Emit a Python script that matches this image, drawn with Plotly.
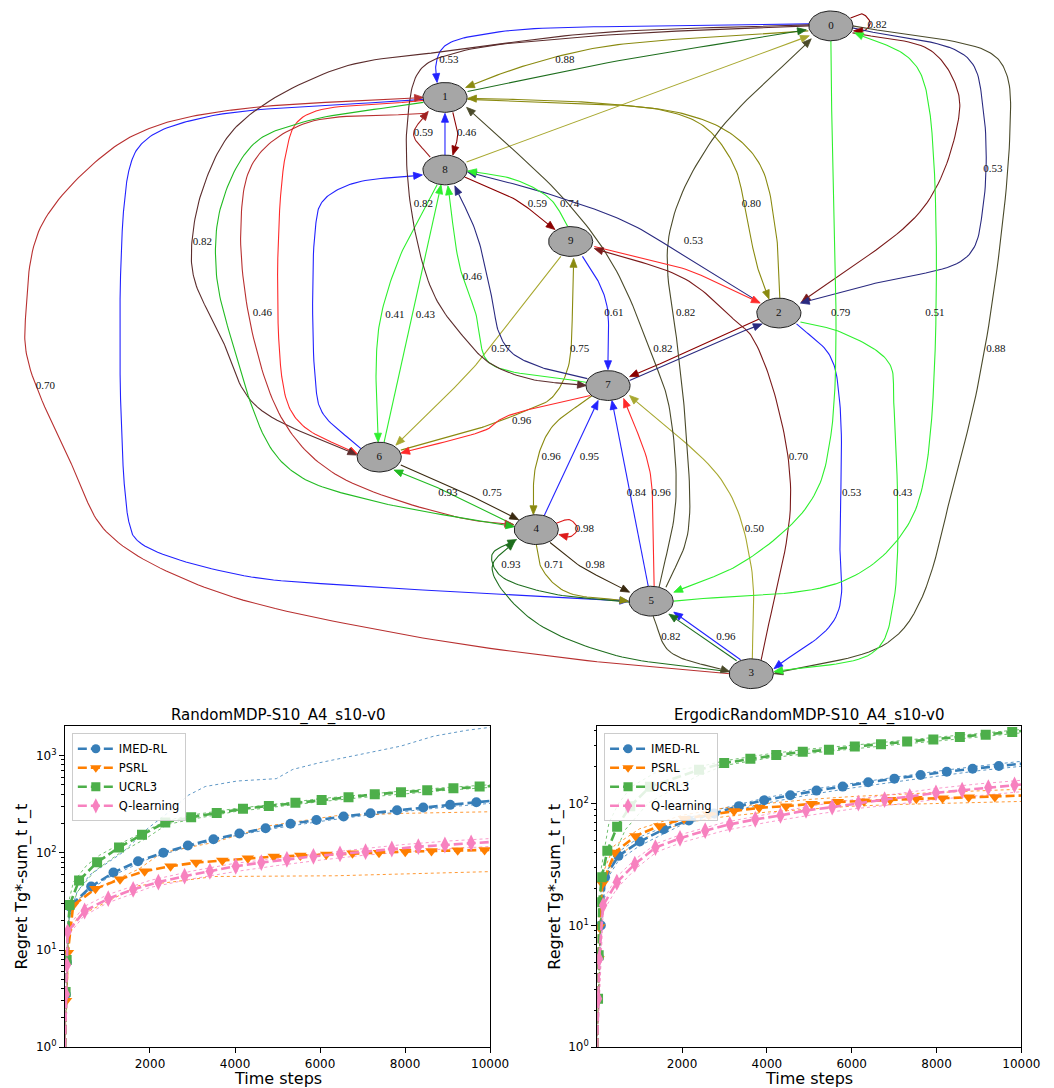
import numpy as np
import plotly.graph_objects as go

# ------------------------------------------------------------------
# Regret data, left panel (RandomMDP-S10_A4_s10-v0)
# ------------------------------------------------------------------
L_IMED_X = [1, 20, 45, 110, 617, 1141, 1719, 2313, 2891, 3493, 4102, 4719, 5305, 5914, 6554, 7186, 7810, 8427, 9059, 9676, 10000]
L_IMED_Y = [1.0, 3.5, 7.5, 28, 45, 62.6, 81.8, 100, 119, 138, 158, 179, 199, 217, 236, 255, 274, 292, 311, 331, 341]
L_IMED_LO_X = [1, 100, 300, 600, 1000, 2000, 3000, 4000, 5000, 6000, 7000, 8000, 9000, 10000]
L_IMED_LO_Y = [0.9, 22, 33, 42, 55, 88, 118, 150, 180, 210, 240, 268, 296, 322]
L_IMED_HI_X = [1, 50, 100, 280, 580, 1360, 1960, 2430, 2900, 3300, 4050, 4970, 5360, 5980, 7130, 7900, 8670, 9450, 10000]
L_IMED_HI_Y = [1.1, 10, 22, 39, 59, 101, 180, 259, 390, 480, 547, 578, 720, 842, 1066, 1250, 1580, 1817, 1950]

L_PSRL_X = [1, 25, 69, 193, 717, 1295, 1874, 2483, 3084, 3701, 4302, 4911, 5536, 6145, 6762, 7386, 8003, 8620, 9237, 9869, 10000]
L_PSRL_Y = [1.0, 3.0, 9.4, 28.8, 42.6, 53.5, 64.6, 72.7, 79.3, 83.2, 87.8, 91.3, 93.5, 95.8, 98.8, 100.3, 102.7, 104.3, 106, 106.9, 107]
L_PSRL_LO_X = [1, 100, 300, 970, 1735, 2506, 3510, 6361, 10000]
L_PSRL_LO_Y = [0.9, 14, 22, 31, 46, 50, 57, 58, 64]
L_PSRL_HI_X = [1, 100, 250, 739, 1740, 2274, 3510, 4819, 6361, 7903, 10000]
L_PSRL_HI_Y = [1.1, 25, 32, 43, 68, 100, 128, 190, 240, 254, 264]

L_UCRL_X = [1, 15, 40, 108, 332, 756, 1272, 1812, 2359, 2968, 3570, 4187, 4796, 5420, 6037, 6669, 7286, 7903, 8520, 9136, 9753, 10000]
L_UCRL_Y = [1.0, 3.7, 7.9, 29, 51.9, 79.8, 113.6, 153, 205, 232, 257, 283, 303, 326, 349, 372, 399, 419, 439, 460, 479, 485]
L_UCRL_LO_X = [1, 100, 300, 700, 1300, 1900, 2400, 3000, 4000, 5000, 6000, 7000, 8000, 9000, 10000]
L_UCRL_LO_Y = [0.9, 24, 40, 65, 100, 140, 195, 222, 265, 300, 335, 370, 405, 440, 470]
L_UCRL_HI_X = [1, 100, 200, 508, 808, 1363, 1963, 2400, 3000, 4000, 5000, 6000, 7000, 8000, 9000, 10000]
L_UCRL_HI_Y = [1.1, 33, 50, 74, 94, 128, 173, 215, 245, 285, 318, 360, 395, 435, 470, 500]

L_Q_X = [1, 20, 45, 62, 463, 1018, 1604, 2197, 2814, 3408, 4017, 4618, 5220, 5844, 6469, 7070, 7687, 8311, 8936, 9553, 10000]
L_Q_Y = [1.0, 3.5, 7.0, 15.4, 25.2, 33.7, 42, 49.9, 57.5, 64.6, 72.7, 79.3, 85.7, 92, 97.2, 102.7, 109.4, 115.5, 120.2, 126, 129]
L_Q_LO_X = [1, 60, 450, 1000, 2000, 3000, 4000, 5000, 6000, 7000, 8000, 9000, 10000]
L_Q_LO_Y = [0.9, 14, 22.5, 30.5, 44, 54, 64, 74, 84, 94, 102, 110, 116]
L_Q_HI_X = [1, 60, 450, 1000, 2000, 3000, 4000, 5000, 6000, 7000, 8000, 9000, 10000]
L_Q_HI_Y = [1.1, 17, 28, 37, 52, 65, 78, 88, 98, 110, 122, 132, 140]

# ------------------------------------------------------------------
# Regret data, right panel (ErgodicRandomMDP-S10_A4_s10-v0)
# ------------------------------------------------------------------
R_IMED_X = [1, 20, 39, 86, 185, 502, 1003, 1566, 2160, 2755, 3341, 3935, 4552, 5170, 5787, 6389, 7006, 7623, 8241, 8850, 9468, 10000]
R_IMED_Y = [1.0, 2.5, 5.5, 10, 24.8, 37.2, 48.7, 61.4, 72.7, 82.9, 95.1, 106.4, 116.9, 127.6, 137.6, 149.3, 159.9, 171.3, 182.4, 192.8, 202.9, 212]
R_IMED_LO_X = [1, 100, 200, 500, 1000, 2000, 3000, 4000, 5000, 6000, 7000, 8000, 9000, 10000]
R_IMED_LO_Y = [0.9, 12, 23, 34, 45, 67, 84, 101, 118, 134, 150, 168, 186, 202]
R_IMED_HI_X = [1, 100, 200, 500, 1000, 2000, 3000, 4000, 5000, 6000, 7000, 8000, 9000, 10000]
R_IMED_HI_Y = [1.1, 14, 27, 40, 53, 74, 92, 112, 130, 146, 166, 184, 203, 222]

R_PSRL_X = [1, 30, 45, 123, 417, 903, 1466, 2045, 2623, 3225, 3819, 4452, 5054, 5671, 6289, 6906, 7523, 8140, 8758, 9375, 10000]
R_PSRL_Y = [1.0, 5.3, 9.7, 22, 39.6, 54.2, 65.4, 75, 80.9, 86.6, 92.2, 95.1, 99.4, 103.2, 104.5, 107.2, 109.2, 110.5, 112.6, 113.3, 116.2]
R_PSRL_LO_X = [1, 100, 400, 1000, 2000, 3000, 4000, 5000, 6000, 7000, 8000, 9000, 10000]
R_PSRL_LO_Y = [0.9, 17, 35, 50, 69, 78, 85, 90, 95, 98, 100, 102, 104]
R_PSRL_HI_X = [1, 100, 400, 1000, 2000, 3000, 4000, 5000, 6000, 7000, 8000, 9000, 10000]
R_PSRL_HI_Y = [1.1, 25, 45, 62, 80, 92, 100, 108, 114, 119, 123, 127, 131]

R_UCRL_X = [1, 20, 35, 46, 109, 239, 470, 780, 1243, 2400, 2994, 3611, 4221, 4846, 5463, 6073, 6690, 7307, 7924, 8549, 9159, 9784, 10000]
R_UCRL_Y = [1.0, 2.5, 5.7, 15.5, 24.8, 40.9, 64.5, 95, 137, 189, 214.6, 232.9, 249.5, 265.6, 275.6, 293.4, 306.5, 322.1, 334.3, 351.4, 367.3, 386.2, 393.8]
R_UCRL_LO_X = [1, 100, 393, 664, 1204, 2361, 3000, 4000, 5000, 6000, 7000, 8000, 9000, 10000]
R_UCRL_LO_Y = [0.9, 20, 37.4, 61, 101, 168, 205, 235, 258, 280, 303, 325, 350, 380]
R_UCRL_HI_X = [1, 100, 278, 509, 817, 1358, 2400, 3000, 4000, 5000, 6000, 7000, 8000, 9000, 10000]
R_UCRL_HI_Y = [1.1, 30, 69.5, 101, 138, 178, 200, 224, 254, 280, 300, 325, 350, 375, 405]

R_Q_X = [1, 20, 45, 139, 463, 887, 1373, 1952, 2546, 3125, 3727, 4321, 4923, 5540, 6157, 6775, 7369, 7986, 8603, 9221, 9838, 10000]
R_Q_Y = [1.0, 2.5, 5.3, 14.6, 22.6, 31.8, 43.5, 51.8, 59.9, 67.4, 74.1, 79.8, 87.7, 93.4, 100.7, 107.8, 114.1, 122.3, 128.5, 135, 142, 143]
R_Q_LO_X = [1, 140, 460, 900, 1400, 2000, 3000, 4000, 5000, 6000, 7000, 8000, 9000, 10000]
R_Q_LO_Y = [0.9, 13, 20, 29, 40, 48, 60, 70, 80, 90, 98, 108, 116, 125]
R_Q_HI_X = [1, 140, 460, 900, 1400, 2000, 3000, 4000, 5000, 6000, 7000, 8000, 9000, 10000]
R_Q_HI_Y = [1.1, 16, 25, 35, 47, 56, 70, 82, 95, 107, 120, 133, 145, 155]

ALGOS = ["IMED-RL", "PSRL", "UCRL3", "Q-learning"]
X_TICKS = [2000, 4000, 6000, 8000, 10000]
X_TICKTEXT = ["2000", "4000", "6000", "8000", "10000"]
Y_TICKS = [1, 10, 100, 1000]
Y_TICKTEXT = ["10<sup>0</sup>", "10<sup>1</sup>", "10<sup>2</sup>", "10<sup>3</sup>"]
TITLES = ["RandomMDP-S10_A4_s10-v0", "ErgodicRandomMDP-S10_A4_s10-v0"]
X_LABEL = "Time steps"
Y_LABEL = "Regret Tg*-sum_t r_t"

# ------------------------------------------------------------------
# MDP graph: node layout (pixel coordinates of the drawing) and edges
# ------------------------------------------------------------------
NODE_IDS = ["0", "1", "2", "3", "4", "5", "6", "7", "8", "9"]
NODE_POS = {"0": (838, 18), "1": (445, 90), "2": (785, 307), "3": (757, 670),
            "4": (538, 525), "5": (655, 597), "6": (378, 452), "7": (611, 380),
            "8": (445, 163), "9": (573, 235)}

C = {"maroon": "#7a1a1a", "darkred": "#8b0000", "brown": "#5c2d2d", "firebrick": "#b83030",
     "red": "#ff2a2a", "blue": "#2222ff", "navy": "#2a2a80", "olive": "#8a8a10",
     "lolive": "#a8a830", "dolive": "#4a4a2a", "lime": "#2ef02e", "green": "#22bb22",
     "dgreen": "#1e6e1e", "vdark": "#3a2a10", "self4": "#dd1a1a", "fb2": "#a02020"}

# (colour, route waypoints, label, label position)
EDGES = [
    ("darkred", [(858, 10), (870, 6), (878, 15), (872, 23), (861, 23)], "0.82", (885, 17)),
    ("blue", [(816, 16), (650, 18), (500, 24), (445, 38), (436, 55), (437, 75)], "0.53", (449, 53)),
    ("olive", [(815, 23), (700, 30), (600, 40), (520, 60), (466, 80)], "0.88", (567, 53)),
    ("dgreen", [(468, 84), (600, 57), (813, 22)], None, None),
    ("olive", [(468, 92), (550, 95), (667, 103), (710, 120), (740, 160), (752, 210), (763, 260), (775, 293)], "0.80", (757, 198)),
    ("olive", [(786, 292), (783, 233), (767, 160), (737, 127), (690, 107), (617, 97), (550, 93), (468, 91)], None, None),
    ("lolive", [(467, 155), (700, 70), (816, 28)], None, None),
    ("dolive", [(670, 583), (692, 530), (690, 420), (683, 350), (673, 230), (717, 133), (818, 31)], "0.82", (690, 307)),
    ("dolive", [(663, 583), (680, 497), (673, 400), (660, 360), (617, 260), (567, 193), (467, 100)], "0.82", (667, 343)),
    ("maroon", [(860, 25), (940, 43), (967, 83), (967, 117), (933, 200), (808, 296)], None, None),
    ("navy", [(860, 20), (977, 50), (993, 100), (993, 200), (977, 250), (883, 277), (807, 297)], "0.53", (1003, 162)),
    ("dolive", [(860, 18), (1000, 45), (1017, 67), (1020, 133), (997, 330), (967, 463), (907, 630), (780, 670)], "0.88", (1006, 343)),
    ("lime", [(838, 33), (838, 430), (817, 497), (750, 557), (678, 588)], "0.79", (848, 307)),
    ("lime", [(678, 597), (850, 577), (910, 530), (935, 463), (935, 83), (917, 50), (862, 25)], "0.51", (944, 307)),
    ("blue", [(803, 318), (837, 350), (847, 397), (847, 530), (843, 613), (780, 665)], "0.53", (859, 488)),
    ("lime", [(807, 316), (850, 327), (897, 357), (902, 397), (902, 597), (883, 647), (780, 668)], "0.43", (911, 488)),
    ("maroon", [(767, 656), (797, 497), (783, 397), (757, 330), (743, 317), (690, 273), (597, 242)], "0.70", (805, 452)),
    ("red", [(597, 240), (690, 263), (723, 277), (766, 297)], None, None),
    ("navy", [(765, 296), (700, 257), (633, 217), (550, 187), (468, 165)], "0.53", (698, 235)),
    ("navy", [(633, 375), (737, 330), (768, 318)], None, None),
    ("darkred", [(765, 313), (690, 347), (633, 371)], None, None),
    ("darkred", [(453, 105), (458, 127), (453, 148)], "0.46", (467, 126)),
    ("fb2", [(430, 150), (413, 127), (428, 104)], "0.59", (423, 126)),
    ("blue", [(445, 148), (445, 106)], None, None),
    ("darkred", [(465, 170), (517, 193), (557, 223)], "0.59", (539, 198)),
    ("lime", [(570, 220), (553, 193), (517, 173), (468, 164)], "0.74", (572, 198)),
    ("blue", [(585, 250), (600, 273), (610, 300), (611, 364)], "0.61", (617, 307)),
    ("lolive", [(563, 250), (500, 330), (473, 363), (395, 440)], "0.57", (502, 343)),
    ("olive", [(400, 445), (480, 423), (523, 407), (553, 393), (570, 363), (575, 300), (576, 252)], "0.75", (582, 343)),
    ("red", [(593, 390), (547, 400), (503, 413), (490, 423), (400, 448)], "0.96", (523, 416)),
    ("brown", [(816, 18), (600, 28), (460, 44), (420, 62), (407, 110), (410, 199), (433, 287), (463, 330), (490, 357), (530, 373), (589, 380)], "0.82", (423, 198)),
    ("brown", [(816, 17), (600, 25), (460, 42), (333, 62), (233, 119), (200, 177), (187, 239), (190, 274), (217, 331), (250, 398), (355, 450)], "0.82", (198, 236)),
    ("firebrick", [(735, 670), (600, 658), (400, 630), (200, 583), (100, 527), (67, 464), (20, 354), (18, 309), (33, 221), (100, 146), (150, 119), (233, 102), (423, 90)], "0.70", (38, 381)),
    ("blue", [(423, 92), (200, 110), (140, 133), (123, 164), (123, 517), (133, 537), (233, 570), (380, 583), (632, 597)], None, None),
    ("green", [(423, 95), (300, 115), (250, 137), (217, 199), (212, 265), (227, 332), (267, 442), (300, 473), (367, 495), (460, 513), (516, 522)], None, None),
    ("red", [(423, 93), (300, 110), (283, 146), (282, 389), (300, 420), (356, 449)], None, None),
    ("firebrick", [(427, 106), (300, 117), (250, 155), (237, 221), (250, 332), (283, 420), (333, 469), (460, 513), (515, 520)], "0.46", (259, 307)),
    ("blue", [(360, 444), (320, 407), (313, 376), (313, 221), (320, 195), (350, 177), (422, 168)], None, None),
    ("lime", [(437, 178), (400, 248), (380, 309), (375, 354), (377, 437)], "0.41", (394, 309)),
    ("lime", [(383, 437), (441, 178)], "0.43", (425, 309)),
    ("lime", [(590, 377), (490, 357), (480, 330), (477, 310), (460, 260), (448, 179)], "0.46", (473, 271)),
    ("navy", [(590, 373), (547, 363), (513, 347), (500, 327), (493, 293), (477, 227), (455, 179)], None, None),
    ("olive", [(595, 390), (553, 423), (537, 463), (535, 510)], "0.96", (553, 452)),
    ("blue", [(546, 511), (601, 395)], "0.95", (592, 452)),
    ("vdark", [(400, 460), (463, 487), (520, 515)], "0.75", (493, 488)),
    ("green", [(515, 520), (447, 487), (393, 465)], "0.93", (448, 488)),
    ("self4", [(557, 519), (572, 515), (580, 524), (573, 532), (561, 530)], "0.98", (587, 525)),
    ("vdark", [(552, 538), (580, 560), (633, 588)], "0.98", (598, 561)),
    ("olive", [(538, 540), (543, 563), (567, 587), (632, 597)], "0.71", (556, 561)),
    ("dgreen", [(633, 598), (547, 588), (500, 570), (493, 550), (518, 535)], "0.93", (512, 561)),
    ("dgreen", [(735, 668), (613, 650), (530, 613), (493, 563), (516, 537)], None, None),
    ("dolive", [(657, 612), (673, 647), (735, 668)], "0.82", (675, 633)),
    ("dgreen", [(742, 657), (673, 610)], None, None),
    ("blue", [(746, 656), (678, 608)], "0.96", (731, 633)),
    ("blue", [(652, 582), (615, 395)], "0.84", (640, 488)),
    ("red", [(658, 582), (657, 520), (653, 463), (627, 393)], "0.96", (665, 488)),
    ("lolive", [(758, 655), (757, 563), (730, 480), (633, 390)], "0.50", (760, 525)),
]

# ------------------------------------------------------------------
W, H = 1054, 1088
GRAPH_H = 690
fig = go.Figure()


def smooth(pts, n=18):
    """Centripetal Catmull-Rom curve through route waypoints."""
    P = np.array(pts, float)
    if len(P) < 3:
        t = np.linspace(0, 1, n)[:, None]
        return P[0] + (P[-1] - P[0]) * t
    P = np.vstack([2 * P[0] - P[1], P, 2 * P[-1] - P[-2]])
    out = []
    for i in range(1, len(P) - 2):
        p0, p1, p2, p3 = P[i - 1], P[i], P[i + 1], P[i + 2]
        t0 = 0.0
        t1 = t0 + max(np.linalg.norm(p1 - p0), 1e-6) ** 0.5
        t2 = t1 + max(np.linalg.norm(p2 - p1), 1e-6) ** 0.5
        t3 = t2 + max(np.linalg.norm(p3 - p2), 1e-6) ** 0.5
        t = np.linspace(t1, t2, n, endpoint=False)[:, None]
        A1 = (t1 - t) / (t1 - t0) * p0 + (t - t0) / (t1 - t0) * p1
        A2 = (t2 - t) / (t2 - t1) * p1 + (t - t1) / (t2 - t1) * p2
        A3 = (t3 - t) / (t3 - t2) * p2 + (t - t2) / (t3 - t2) * p3
        B1 = (t2 - t) / (t2 - t0) * A1 + (t - t0) / (t2 - t0) * A2
        B2 = (t3 - t) / (t3 - t1) * A2 + (t - t1) / (t3 - t1) * A3
        out.append((t2 - t) / (t2 - t1) * B1 + (t - t1) / (t2 - t1) * B2)
    out.append(P[-2][None, :])
    return np.vstack(out)


ARROW_L, ARROW_W = 9.0, 3.6
line_groups, arrow_groups = {}, {}
for col, route, lab, lpos in EDGES:
    curve = smooth(route)
    tip = curve[-1]
    d = np.linalg.norm(curve - tip, axis=1)
    idx = np.where(d >= ARROW_L)[0]
    back = curve[idx[-1]] if len(idx) else curve[0]
    u = (tip - back) / max(np.linalg.norm(tip - back), 1e-6)
    perp = np.array([-u[1], u[0]])
    base = tip - ARROW_L * u
    keep = curve[d >= ARROW_L]
    line_pts = np.vstack([keep, base[None, :]])
    lx, ly = line_groups.setdefault(col, ([], []))
    lx.extend(list(line_pts[:, 0]) + [None])
    ly.extend(list(line_pts[:, 1]) + [None])
    tri = [base + ARROW_W * perp, tip, base - ARROW_W * perp, base + ARROW_W * perp]
    ax_, ay_ = arrow_groups.setdefault(col, ([], []))
    ax_.extend([p[0] for p in tri] + [None])
    ay_.extend([p[1] for p in tri] + [None])

for col, (lx, ly) in line_groups.items():
    fig.add_trace(go.Scatter(x=lx, y=ly, mode="lines", line=dict(color=C[col], width=1.1),
                             xaxis="x3", yaxis="y3", hoverinfo="skip", showlegend=False))
for col, (ax_, ay_) in arrow_groups.items():
    fig.add_trace(go.Scatter(x=ax_, y=ay_, mode="lines", fill="toself", fillcolor=C[col],
                             line=dict(color=C[col], width=0.8),
                             xaxis="x3", yaxis="y3", hoverinfo="skip", showlegend=False))

# edge labels
lab_x = [e[3][0] for e in EDGES if e[2]]
lab_y = [e[3][1] for e in EDGES if e[2]]
lab_t = [e[2] for e in EDGES if e[2]]
fig.add_trace(go.Scatter(x=lab_x, y=lab_y, mode="text", text=lab_t,
                         textfont=dict(family="Liberation Serif", size=11, color="#111"),
                         xaxis="x3", yaxis="y3", hoverinfo="skip", showlegend=False))

# nodes (ellipses)
RX, RY = 22.5, 15
th = np.linspace(0, 2 * np.pi, 60)
ex, ey = [], []
for nid in NODE_IDS:
    cx, cy = NODE_POS[nid]
    ex.extend(list(cx + RX * np.cos(th)) + [None])
    ey.extend(list(cy + RY * np.sin(th)) + [None])
fig.add_trace(go.Scatter(x=ex, y=ey, mode="lines", fill="toself", fillcolor="#a6a6a6",
                         line=dict(color="#222", width=1), xaxis="x3", yaxis="y3",
                         hoverinfo="skip", showlegend=False))
fig.add_trace(go.Scatter(x=[NODE_POS[n][0] for n in NODE_IDS], y=[NODE_POS[n][1] for n in NODE_IDS],
                         mode="text", text=NODE_IDS,
                         textfont=dict(family="Liberation Serif", size=11, color="#111"),
                         xaxis="x3", yaxis="y3", hoverinfo="skip", showlegend=False))

# ------------------------------------------------------------------
# Regret panels
# ------------------------------------------------------------------
COLORS = ["#377eb8", "#ff7f00", "#4daf4a", "#f781bf"]
SYMBOLS = ["circle", "triangle-down", "square", "diamond-tall"]
MSIZES = [10, 11, 10, 12]

panels = [
    ("x", "y", "legend", [
        (L_IMED_X, L_IMED_Y, L_IMED_LO_X, L_IMED_LO_Y, L_IMED_HI_X, L_IMED_HI_Y),
        (L_PSRL_X, L_PSRL_Y, L_PSRL_LO_X, L_PSRL_LO_Y, L_PSRL_HI_X, L_PSRL_HI_Y),
        (L_UCRL_X, L_UCRL_Y, L_UCRL_LO_X, L_UCRL_LO_Y, L_UCRL_HI_X, L_UCRL_HI_Y),
        (L_Q_X, L_Q_Y, L_Q_LO_X, L_Q_LO_Y, L_Q_HI_X, L_Q_HI_Y)]),
    ("x2", "y2", "legend2", [
        (R_IMED_X, R_IMED_Y, R_IMED_LO_X, R_IMED_LO_Y, R_IMED_HI_X, R_IMED_HI_Y),
        (R_PSRL_X, R_PSRL_Y, R_PSRL_LO_X, R_PSRL_LO_Y, R_PSRL_HI_X, R_PSRL_HI_Y),
        (R_UCRL_X, R_UCRL_Y, R_UCRL_LO_X, R_UCRL_LO_Y, R_UCRL_HI_X, R_UCRL_HI_Y),
        (R_Q_X, R_Q_Y, R_Q_LO_X, R_Q_LO_Y, R_Q_HI_X, R_Q_HI_Y)]),
]

for xa, ya, leg, series in panels:
    for i, (mx, my, lox, loy, hix, hiy) in enumerate(series):
        for bx, by in ((lox, loy), (hix, hiy)):
            fig.add_trace(go.Scatter(x=bx, y=by, mode="lines", xaxis=xa, yaxis=ya,
                                     line=dict(color=COLORS[i], width=0.8, dash="dot"),
                                     hoverinfo="skip", showlegend=False))
    for i, (mx, my, lox, loy, hix, hiy) in enumerate(series):
        sizes = [0] + [MSIZES[i]] * (len(mx) - 2) + [0]
        fig.add_trace(go.Scatter(x=mx, y=my, mode="lines+markers", name=ALGOS[i],
                                 xaxis=xa, yaxis=ya, legend=leg, opacity=1,
                                 line=dict(color=COLORS[i], width=2.6, dash="9px,4px"),
                                 marker=dict(color=COLORS[i], symbol=SYMBOLS[i], size=sizes,
                                             opacity=1, line=dict(width=0))))


def xd(a, b):
    return [a / W, b / W]


def yd(top, bot):
    return [1 - bot / H, 1 - top / H]


minor_vals = [k * 10 ** e for e in range(0, 4) for k in range(2, 10)]
axis_common = dict(showline=True, linecolor="black", linewidth=1, mirror=True, ticks="outside",
                   ticklen=5, tickcolor="black", showgrid=False, zeroline=False,
                   tickfont=dict(family="DejaVu Sans", size=12, color="black"))
leg_common = dict(xanchor="left", yanchor="top", bgcolor="rgba(255,255,255,0.85)",
                  bordercolor="#cccccc", borderwidth=1,
                  font=dict(family="DejaVu Sans", size=11.5, color="black"),
                  itemwidth=36, tracegroupgap=0)

fig.update_layout(
    width=W, height=H, margin=dict(l=0, r=0, t=0, b=0),
    paper_bgcolor="white", plot_bgcolor="white",
    xaxis=dict(domain=xd(58, 491), range=[0, 10000], tickvals=X_TICKS, ticktext=X_TICKTEXT,
               anchor="y", **axis_common),
    yaxis=dict(domain=yd(723, 1046), type="log", range=[0, 3.30], tickvals=Y_TICKS, ticktext=Y_TICKTEXT,
               anchor="x", minor=dict(tickvals=minor_vals, ticks="outside", ticklen=2.5, tickcolor="black"),
               **axis_common),
    xaxis2=dict(domain=xd(600, 1032), range=[0, 10000], tickvals=X_TICKS, ticktext=X_TICKTEXT,
                anchor="y2", **axis_common),
    yaxis2=dict(domain=yd(723, 1046), type="log", range=[0, 2.633], tickvals=Y_TICKS, ticktext=Y_TICKTEXT,
                anchor="x2", minor=dict(tickvals=minor_vals, ticks="outside", ticklen=2.5, tickcolor="black"),
                **axis_common),
    xaxis3=dict(domain=[0, 1], range=[0, W], visible=False, anchor="y3"),
    yaxis3=dict(domain=[1 - GRAPH_H / H, 1], range=[GRAPH_H, 0], visible=False, anchor="x3"),
    legend=dict(x=65 / W, y=1 - 730 / H, **leg_common),
    legend2=dict(x=607 / W, y=1 - 730 / H, **leg_common),
    showlegend=True,
)

ann_font = dict(family="DejaVu Sans", color="black")
for cx, title in ((274.5, TITLES[0]), (816, TITLES[1])):
    fig.add_annotation(x=cx / W, y=1 - 712 / H, xref="paper", yref="paper", text=title, showarrow=False,
                       font=dict(size=15, **ann_font), xanchor="center", yanchor="middle")
    fig.add_annotation(x=cx / W, y=1 - 1077 / H, xref="paper", yref="paper", text=X_LABEL, showarrow=False,
                       font=dict(size=16, **ann_font), xanchor="center", yanchor="middle")
for cx in (14, 557):
    fig.add_annotation(x=cx / W, y=1 - 884.5 / H, xref="paper", yref="paper", text=Y_LABEL, showarrow=False,
                       textangle=-90, font=dict(size=16, **ann_font), xanchor="center", yanchor="middle")

fig.write_html("out.html")
